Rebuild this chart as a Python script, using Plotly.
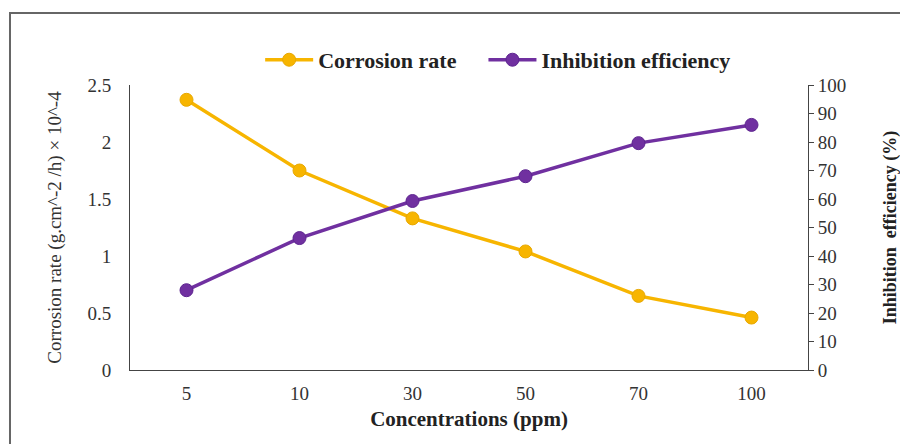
import plotly.graph_objects as go

concentrations = ['5', '10', '30', '50', '70', '100']
corrosion_rate = [2.37, 1.75, 1.33, 1.04, 0.65, 0.46]
inhibition_efficiency = [28.0, 46.3, 59.3, 68.0, 79.6, 86.0]

GOLD = '#F7B500'
PURPLE = '#7030A0'
FONT = 'Liberation Serif'

fig = go.Figure()

fig.add_trace(go.Scatter(
    x=concentrations, y=corrosion_rate, name='<b>Corrosion rate</b>    ',
    mode='lines+markers',
    line={'color': GOLD, 'width': 3.5},
    marker={'size': 13, 'color': GOLD, 'line': {'color': '#E8A800', 'width': 1}},
))
fig.add_trace(go.Scatter(
    x=concentrations, y=inhibition_efficiency, name='<b>Inhibition efficiency</b>',
    mode='lines+markers', yaxis='y2',
    line={'color': PURPLE, 'width': 3.5},
    marker={'size': 13, 'color': PURPLE, 'line': {'color': '#5E2590', 'width': 1}},
))

# the page body adds an 8px offset, so margins are shifted to keep the plot area in place
fig.update_layout(
    width=908, height=444,
    margin={'l': 122, 'r': 108, 't': 77, 'b': 82},
    paper_bgcolor='white', plot_bgcolor='white',
    font={'family': FONT, 'size': 19, 'color': '#333'},
    showlegend=True,
    legend={
        'orientation': 'h', 'x': 0.543, 'xanchor': 'center',
        'y': 1.088, 'yanchor': 'middle',
        'font': {'size': 22, 'color': '#222'},
        'itemwidth': 48, 'tracegroupgap': 0,
    },
    xaxis={
        'type': 'category', 'range': [-0.5, 5.5], 'automargin': False,
        'showline': True, 'linecolor': '#444', 'linewidth': 1,
        'showgrid': False, 'ticks': '', 'ticklabelstandoff': 6,
        'title': {'text': '<b>Concentrations (ppm)</b>', 'font': {'size': 21, 'color': '#222'},
                  'standoff': 8},
    },
    yaxis={
        'range': [0, 2.5], 'dtick': 0.5, 'automargin': False,
        'showline': True, 'linecolor': '#444', 'linewidth': 1,
        'showgrid': False, 'ticks': '', 'zeroline': False,
        'ticklabelstandoff': 14,
        'title': {'text': 'Corrosion rate (g.cm^-2 /h) × 10^-4', 'font': {'size': 19, 'color': '#333'},
                  'standoff': 20},
    },
    yaxis2={
        'range': [0, 100], 'dtick': 10, 'overlaying': 'y', 'side': 'right',
        'automargin': False,
        'showline': True, 'linecolor': '#444', 'linewidth': 1,
        'showgrid': False, 'ticks': 'outside', 'ticklen': 5, 'tickcolor': '#444',
        'zeroline': False,
        'title': {'text': '<b>Inhibition  efficiency (%)</b>', 'font': {'size': 18, 'color': '#222'},
                  'standoff': 38},
    },
    shapes=[{
        'type': 'rect', 'xref': 'paper', 'yref': 'paper',
        'x0': -0.177, 'x1': 1.3, 'y0': -0.4, 'y1': 1.2526,
        'line': {'color': '#666', 'width': 2}, 'fillcolor': 'rgba(0,0,0,0)',
    }],
)

fig.write_html('out.html')
